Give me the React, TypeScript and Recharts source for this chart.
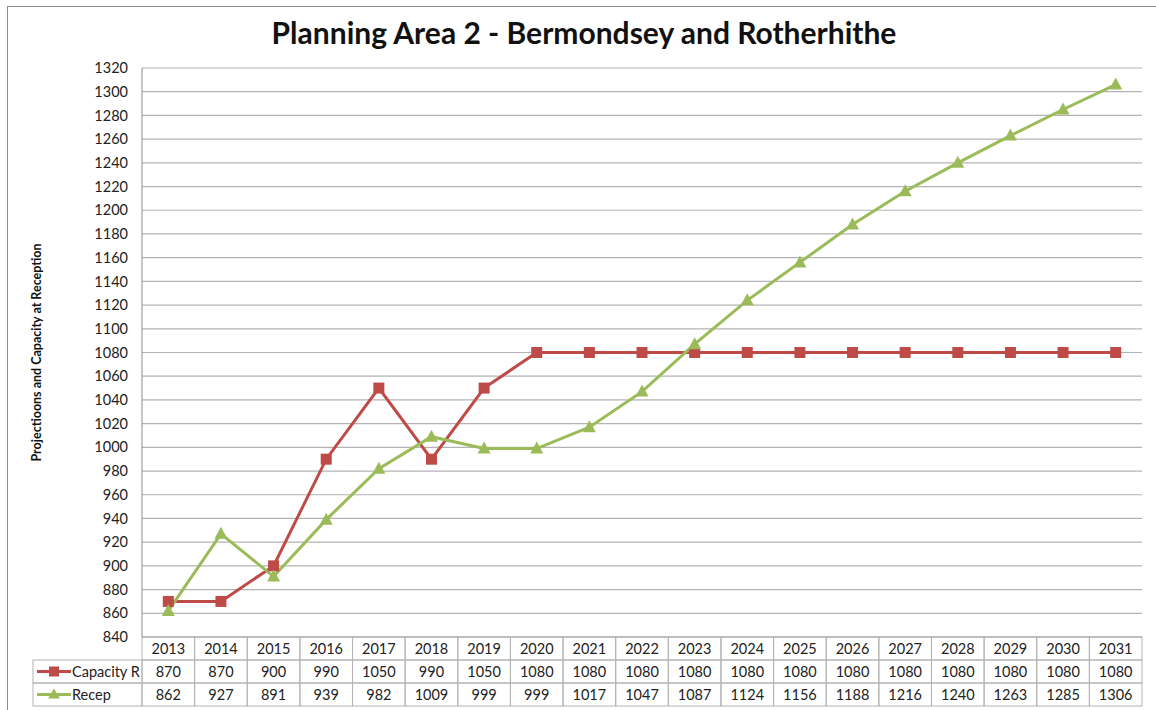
import { CartesianGrid, Line, LineChart, XAxis, YAxis } from "recharts";

const years = [
  "2013", "2014", "2015", "2016", "2017", "2018", "2019", "2020", "2021", "2022",
  "2023", "2024", "2025", "2026", "2027", "2028", "2029", "2030", "2031",
];
const capacity = [
  870, 870, 900, 990, 1050, 990, 1050, 1080, 1080, 1080,
  1080, 1080, 1080, 1080, 1080, 1080, 1080, 1080, 1080,
];
const recep = [
  862, 927, 891, 939, 982, 1009, 999, 999, 1017, 1047,
  1087, 1124, 1156, 1188, 1216, 1240, 1263, 1285, 1306,
];
const yTicks = [
  840, 860, 880, 900, 920, 940, 960, 980, 1000, 1020, 1040, 1060,
  1080, 1100, 1120, 1140, 1160, 1180, 1200, 1220, 1240, 1260, 1280, 1300, 1320,
];

const data = years.map((year, i) => ({ year, capacity: capacity[i], recep: recep[i] }));

const RED = "#be4b48";
const GREEN = "#9bbb59";
const GRID = "#b3b3b3";
const FONT = "Lato, 'Open Sans', sans-serif";
const FS = 14.5;

const W = 1156;
const H = 710;
const PLOT_LEFT = 142;
const PLOT_RIGHT = 1142;
const COL = (PLOT_RIGHT - PLOT_LEFT) / years.length;
const ROW = 23;
const LEGEND_LEFT = 33;

const Square = (props: any) => {
  const { cx, cy, index } = props;
  if (cx == null || cy == null) return null;
  return <rect key={`s${index}`} x={cx - 5.5} y={cy - 5.5} width={11} height={11} fill={RED} />;
};

const Triangle = (props: any) => {
  const { cx, cy, index } = props;
  if (cx == null || cy == null) return null;
  return (
    <path
      key={`t${index}`}
      d={`M${cx},${cy - 7} L${cx + 6.5},${cy + 5} L${cx - 6.5},${cy + 5} Z`}
      fill={GREEN}
    />
  );
};

const cellText = (x: number, y: number, label: string | number) => (
  <text
    x={x}
    y={y + ROW / 2}
    textAnchor="middle"
    dominantBaseline="central"
    fontFamily={FONT}
    fontSize={FS}
    fill="#222"
  >
    {label}
  </text>
);

const TableTick = (props: any) => {
  const { x, y, payload } = props;
  const i = payload.index;
  const left = x - COL / 2;
  const rows = [years[i], capacity[i], recep[i]];
  return (
    <g>
      {rows.map((v, r) => (
        <g key={r}>
          <rect x={left} y={y + r * ROW} width={COL} height={ROW} fill="none" stroke={GRID} />
          {cellText(x, y + r * ROW, v)}
        </g>
      ))}
      {i === 0 && (
        <g>
          <rect x={LEGEND_LEFT} y={y + ROW} width={left - LEGEND_LEFT} height={ROW} fill="none" stroke={GRID} />
          <rect x={LEGEND_LEFT} y={y + 2 * ROW} width={left - LEGEND_LEFT} height={ROW} fill="none" stroke={GRID} />
          <line x1={LEGEND_LEFT + 4} x2={LEGEND_LEFT + 38} y1={y + ROW * 1.5} y2={y + ROW * 1.5} stroke={RED} strokeWidth={3} />
          <rect x={LEGEND_LEFT + 16} y={y + ROW * 1.5 - 5} width={10} height={10} fill={RED} />
          <line x1={LEGEND_LEFT + 4} x2={LEGEND_LEFT + 38} y1={y + ROW * 2.5} y2={y + ROW * 2.5} stroke={GREEN} strokeWidth={3} />
          <path
            d={`M${LEGEND_LEFT + 21},${y + ROW * 2.5 - 6} L${LEGEND_LEFT + 27},${y + ROW * 2.5 + 4} L${LEGEND_LEFT + 15},${y + ROW * 2.5 + 4} Z`}
            fill={GREEN}
          />
          <text x={LEGEND_LEFT + 39} y={y + ROW * 1.5} dominantBaseline="central" fontFamily={FONT} fontSize={FS} fill="#222">
            Capacity R
          </text>
          <text x={LEGEND_LEFT + 39} y={y + ROW * 2.5} dominantBaseline="central" fontFamily={FONT} fontSize={FS} fill="#222">
            Recep
          </text>
        </g>
      )}
    </g>
  );
};

export default function App() {
  return (
    <div style={{ position: "absolute", left: 0, top: 0, width: W, height: H, overflow: "hidden", background: "#fff" }}>
      <div
        style={{
          position: "absolute",
          left: 7,
          top: 6,
          width: W + 20,
          height: H + 20,
          border: "1px solid #8c8c8c",
        }}
      />
      <div
        style={{
          position: "absolute",
          left: 0,
          top: 14,
          width: 1168,
          textAlign: "center",
          fontFamily: FONT,
          fontWeight: 700,
          fontSize: 30,
          color: "#111",
        }}
      >
        Planning Area 2 - Bermondsey and Rotherhithe
      </div>
      <div style={{ position: "absolute", left: 0, top: 0 }}>
        <LineChart
          width={W}
          height={H}
          data={data}
          margin={{ top: 68, right: W - PLOT_RIGHT, left: 82, bottom: 3 }}
        >
          <CartesianGrid horizontal vertical={false} stroke={GRID} strokeWidth={1.2} />
          <XAxis
            dataKey="year"
            type="category"
            scale="band"
            interval={0}
            height={70}
            tickLine={false}
            tickSize={0}
            tickMargin={0}
            axisLine={{ stroke: GRID }}
            tick={<TableTick />}
          />
          <YAxis
            domain={[840, 1320]}
            ticks={yTicks}
            interval={0}
            width={60}
            tickLine={false}
            tickSize={0}
            tickMargin={14}
            axisLine={{ stroke: "#8c8c8c" }}
            tick={{ fontFamily: FONT, fontSize: FS, fill: "#222" }}
            label={{
              value: "Projectioons and Capacity at Reception",
              angle: -90,
              position: "insideLeft",
              offset: -45,
              style: { fontFamily: FONT, fontWeight: 700, fontSize: 12.5, fill: "#111", textAnchor: "middle" },
            }}
          />
          <Line
            dataKey="capacity"
            stroke={RED}
            strokeWidth={3}
            dot={<Square />}
            activeDot={false}
            isAnimationActive={false}
          />
          <Line
            dataKey="recep"
            stroke={GREEN}
            strokeWidth={3}
            dot={<Triangle />}
            activeDot={false}
            isAnimationActive={false}
          />
        </LineChart>
      </div>
    </div>
  );
}
